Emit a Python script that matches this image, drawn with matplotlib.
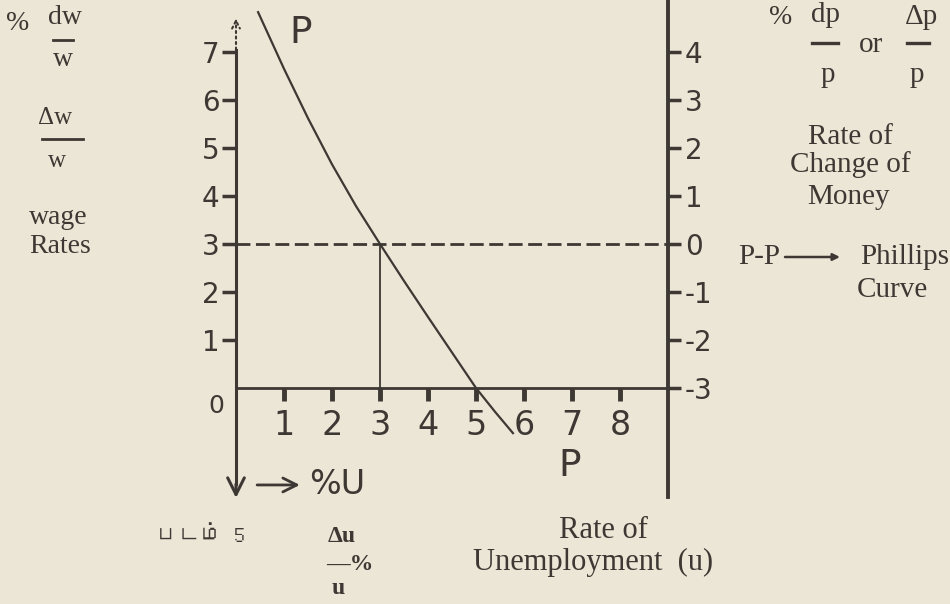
import matplotlib
matplotlib.use("Agg")
import matplotlib.pyplot as plt
from matplotlib import font_manager
from matplotlib.ft2font import FT2Font
from matplotlib.lines import Line2D

# Phillips curve: wage change (%) vs unemployment (%)
u_vals = [0.46, 1.0, 1.5, 2.0, 2.5, 3.0, 3.5, 4.0, 4.5, 5.0, 5.4, 5.77]
w_vals = [7.83, 6.65, 5.62, 4.66, 3.79, 3.0, 2.23, 1.48, 0.74, 0.0, -0.5, -0.94]

x_ticks = [1, 2, 3, 4, 5, 6, 7, 8]
x_labels = ["1", "2", "3", "4", "5", "6", "7", "8"]
left_ticks = [1, 2, 3, 4, 5, 6, 7]
left_labels = ["1", "2", "3", "4", "5", "6", "7"]
right_ticks = [-3, -2, -1, 0, 1, 2, 3, 4]
right_labels = ["-3", "-2", "-1", "0", "1", "2", "3", "4"]

eq_u, eq_w = 3, 3          # point where price change is zero
price_offset = 3           # right scale = left scale - 3
right_axis_x = 9

ink = "#3d3833"
paper = "#ece6d6"
W, H = 950, 604


def font_with(ch, default="DejaVu Sans"):
    # look for an installed family that has this character
    for f in font_manager.fontManager.ttflist:
        try:
            if ord(ch) in FT2Font(f.fname).get_charmap():
                return f.name
        except Exception:
            pass
    return default


tamil_font = font_with("ப")

plt.rcParams["axes.unicode_minus"] = False
fig = plt.figure(figsize=(9.5, 6.04), dpi=100, facecolor=paper)
ax = fig.add_axes([0, 0, 1, 1])
ax.set_facecolor("none")

# data limits so that origin sits at (236, 388) px, 48 px per unit
xlim = (-236 / 48, (W - 236) / 48)
ylim = (-(H - 388) / 48, 388 / 48)
ax.set_xlim(xlim)
ax.set_ylim(ylim)

for s in ["top", "right"]:
    ax.spines[s].set_visible(False)
ax.spines["left"].set_position(("data", 0))
ax.spines["bottom"].set_position(("data", 0))
ax.spines["left"].set_bounds(-2.0, 7.05)
ax.spines["bottom"].set_bounds(0, right_axis_x)
ax.spines["left"].set_linewidth(2.2)
ax.spines["bottom"].set_linewidth(2.0)
ax.spines["left"].set_color(ink)
ax.spines["bottom"].set_color(ink)

ax.set_xticks(x_ticks, x_labels)
ax.set_yticks(left_ticks, left_labels)
ax.tick_params(axis="x", direction="out", length=9, width=3.5, labelsize=24,
               pad=6, colors=ink)
ax.tick_params(axis="y", direction="out", length=10, width=2.5, labelsize=20,
               pad=2, colors=ink)

# right axis (rate of price change)
ax2 = ax.twinx()
ax2.set_position([0, 0, 1, 1])
ax2.set_ylim(ylim[0] - price_offset, ylim[1] - price_offset)
for s in ["top", "left", "bottom"]:
    ax2.spines[s].set_visible(False)
ax2.spines["right"].set_position(("data", right_axis_x))
ax2.spines["right"].set_bounds(ylim[0] - price_offset + 2.23, ylim[1] - price_offset)
ax2.spines["right"].set_linewidth(2.8)
ax2.spines["right"].set_color(ink)
ax2.set_yticks(right_ticks, right_labels)
ax2.tick_params(axis="y", direction="out", length=9, width=2.5, labelsize=20,
                pad=3, colors=ink)

# curve and guide lines
ax.plot(u_vals, w_vals, color=ink, lw=1.6)
ax.hlines(eq_w, 0, right_axis_x, colors=ink, lw=2.0, linestyles=(0, (5, 2)))
ax.vlines(eq_u, 0, eq_w, colors=ink, lw=1.3)

# axis arrows
ax.annotate("", xy=(0, 7.7), xytext=(0, 7.05),
            arrowprops=dict(arrowstyle="->", ls=":", lw=1.5, color=ink,
                            shrinkA=0, shrinkB=0, mutation_scale=14))
ax.annotate("", xy=(0, -2.29), xytext=(0, -2.0),
            arrowprops=dict(arrowstyle="->", lw=2.2, color=ink,
                            shrinkA=0, shrinkB=0, mutation_scale=30))
ax.annotate("", xy=(1.33, -2.02), xytext=(0.44, -2.02),
            arrowprops=dict(arrowstyle="->", lw=2.0, color=ink,
                            shrinkA=0, shrinkB=0, mutation_scale=25))


def px(x, y):
    return x / W, 1 - y / H


def rule(x0, x1, y, lw=2.0):
    # short fraction bar
    (a, b), (c, _) = px(x0, y), px(x1, y)
    fig.add_artist(Line2D([a, c], [b, b], color=ink, lw=lw,
                          transform=fig.transFigure))


serif = dict(family="Liberation Serif", color=ink, ha="center", va="center")
sans = dict(family="DejaVu Sans", color=ink, ha="center", va="center")

# hand lettering on the chart
fig.text(*px(216, 406), "0", fontsize=18, **sans)
fig.text(*px(301, 33), "P", fontsize=27, **sans)
fig.text(*px(570, 466), "P", fontsize=27, **sans)
fig.text(*px(337, 485), "%U", fontsize=24, **sans)

# left labels
fig.text(*px(18, 23), "%", fontsize=20, **serif)
fig.text(*px(65, 18), "dw", fontsize=20, **serif)
rule(53, 73, 40)
fig.text(*px(63, 60), "w", fontsize=20, **serif)
fig.text(*px(55, 118), "Δw", fontsize=18, **serif)
rule(42, 83, 139)
fig.text(*px(57, 161), "w", fontsize=18, **serif)
fig.text(*px(58, 218), "wage", fontsize=20, **serif)
fig.text(*px(60, 247), "Rates", fontsize=20, **serif)

# right labels
fig.text(*px(781, 17), "%", fontsize=20, **serif)
fig.text(*px(825, 15), "dp", fontsize=21, **serif)
rule(812, 838, 43, lw=2.4)
fig.text(*px(828, 75), "p", fontsize=21, **serif)
fig.text(*px(871, 45), "or", fontsize=21, **serif)
fig.text(*px(922, 17), "Δp", fontsize=21, **serif)
rule(907, 929, 43, lw=2.4)
fig.text(*px(917, 75), "p", fontsize=21, **serif)
fig.text(*px(850, 137), "Rate of", fontsize=21, **serif)
fig.text(*px(850, 165), "Change of", fontsize=21, **serif)
fig.text(*px(849, 197), "Money", fontsize=21, **serif)
fig.text(*px(759, 257), "P-P", fontsize=21, **serif)
ax.annotate("", xy=px(840, 257), xytext=px(785, 257), xycoords="figure fraction",
            textcoords="figure fraction",
            arrowprops=dict(arrowstyle="-|>", lw=1.8, color=ink,
                            shrinkA=0, shrinkB=0, mutation_scale=10))
fig.text(*px(905, 257), "Phillips", fontsize=21, **serif)
fig.text(*px(892, 290), "Curve", fontsize=21, **serif)

# bottom labels
fig.text(*px(200, 535), "படம் 5", fontsize=16, fontweight="bold",
         family=[tamil_font, "DejaVu Sans"], color=ink, ha="center", va="center")
fig.text(*px(342, 536), "Δu", fontsize=17, fontweight="bold", **serif)
fig.text(*px(350, 564), "—%", fontsize=17, fontweight="bold", **serif)
fig.text(*px(338, 589), "u", fontsize=17, fontweight="bold", **serif)
fig.text(*px(603, 530), "Rate of", fontsize=22, **serif)
fig.text(*px(473, 562), "Unemployment  (u)", fontsize=22,
         **{**serif, "ha": "left"})

fig.savefig("out.png", dpi=100, facecolor=paper)
